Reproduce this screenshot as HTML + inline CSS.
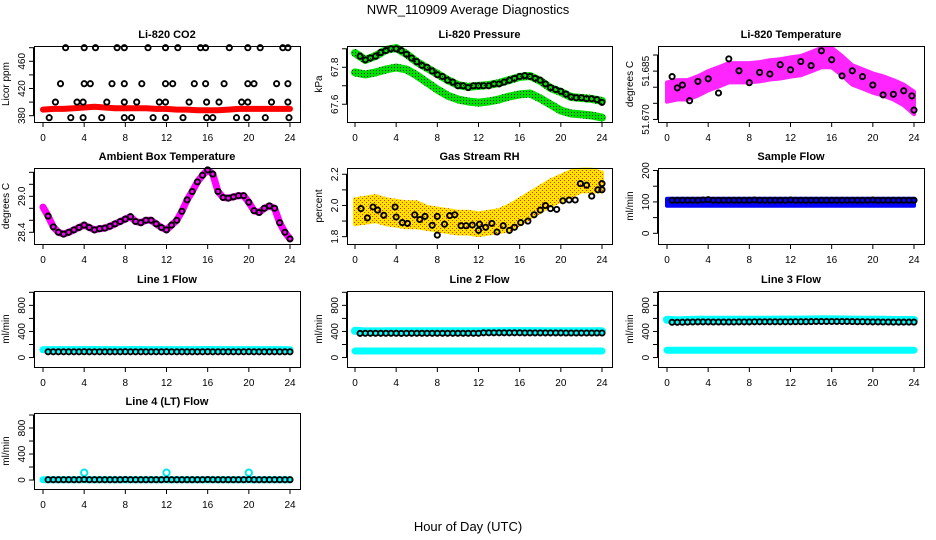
<!DOCTYPE html>
<html><head><meta charset="utf-8">
<style>
html,body{margin:0;padding:0;background:#fff;}
svg{display:block;font-family:"Liberation Sans",sans-serif;}
</style></head>
<body>
<svg id="chart" width="936" height="540" viewBox="0 0 936 540" xmlns="http://www.w3.org/2000/svg">
<defs>
<pattern id="greenDots" width="3" height="3" patternUnits="userSpaceOnUse"><rect width="3" height="3" fill="#00e000"/><rect x="1" y="1" width="1" height="1" fill="#003300"/></pattern>
<pattern id="rhDots" width="4" height="4" patternUnits="userSpaceOnUse"><rect width="4" height="4" fill="#ffe400"/><rect x="0" y="0" width="1" height="1" fill="#ff2000"/><rect x="2" y="2" width="1" height="1" fill="#ff2000"/></pattern>
</defs>
<text x="468" y="14" font-size="13" text-anchor="middle">NWR_110909  Average Diagnostics</text>
<text x="468" y="531" font-size="13" text-anchor="middle">Hour of Day (UTC)</text>
</svg>
<script>
// ---------- data ----------
const xTicks = [0,4,8,12,16,20,24];
const hourly = [0,1,2,3,4,5,6,7,8,9,10,11,12,13,14,15,16,17,18,19,20,21,22,23,24];
const halfHours = [0.5,1,1.5,2,2.5,3,3.5,4,4.5,5,5.5,6,6.5,7,7.5,8,8.5,9,9.5,10,10.5,11,11.5,12,12.5,13,13.5,14,14.5,15,15.5,16,16.5,17,17.5,18,18.5,19,19.5,20,20.5,21,21.5,22,22.5,23,23.5,24];

// CO2
const co2Red = [389,390,390,391,392,393,392,391,391,391,391,390,390,389,389,388,388,388,389,390,390,390,390,390,390];
const co2Hours = [2.2,4.0,5.1,7.2,7.9,10.2,11.9,13.1,15.3,15.8,18.1,19.9,21.1,23.3,23.8,
  1.7,4.0,4.6,6.7,7.9,9.6,11.9,12.6,14.7,15.8,17.6,19.9,20.5,22.7,23.8,
  1.2,3.3,3.9,6.2,7.9,9.1,11.3,11.9,14.2,15.9,17.1,19.3,19.9,22.2,23.8,
  0.6,2.7,3.9,5.7,7.9,8.6,10.7,11.9,13.6,15.9,16.5,18.8,19.8,21.6,23.9];
const co2Vals = [480,480,480,480,480,480,480,480,480,480,480,480,480,480,480,
  427,427,427,427,427,427,427,427,427,427,427,427,427,427,427,
  400,400,400,400,400,400,400,400,400,400,400,400,400,400,400,
  377,377,377,377,377,377,377,377,377,377,377,377,377,377,377];

// Pressure
const pressUpper = [67.877,67.840,67.861,67.894,67.904,67.872,67.829,67.796,67.764,67.731,67.704,67.694,67.699,67.704,67.715,67.731,67.748,67.753,67.726,67.688,67.666,67.639,67.634,67.629,67.618];
const pressLower = [67.772,67.761,67.772,67.788,67.799,67.788,67.756,67.718,67.680,67.647,67.626,67.615,67.609,67.615,67.626,67.642,67.653,67.658,67.631,67.599,67.566,67.550,67.545,67.539,67.528];
const pressBlack = [67.86,67.84,67.85,67.86,67.88,67.89,67.90,67.90,67.89,67.87,67.85,67.83,67.81,67.80,67.78,67.76,67.75,67.73,67.72,67.70,67.70,67.69,67.70,67.70,67.70,67.70,67.71,67.71,67.72,67.73,67.74,67.75,67.755,67.75,67.74,67.73,67.71,67.69,67.68,67.67,67.655,67.64,67.635,67.635,67.63,67.63,67.625,67.61];

// Li-820 temperature
const tempCenter = [51.6785,51.6792,51.6792,51.6804,51.6820,51.6832,51.6845,51.6845,51.6845,51.6848,51.6854,51.6857,51.6863,51.6867,51.6879,51.6892,51.6892,51.6867,51.6838,51.6826,51.6813,51.6804,51.6792,51.6776,51.6751];
const tempSpread = [0.0030,0.0030,0.0030,0.0030,0.0030,0.0030,0.0030,0.0030,0.0030,0.0030,0.0030,0.0030,0.0030,0.0030,0.0030,0.0030,0.0030,0.0030,0.0030,0.0030,0.0030,0.0030,0.0030,0.0032,0.0035];
const tempBlackHours = [0.5,1,1.5,2.2,3,4,5,6,7,8,9,10,11,12,13,14,15,16,17,18,19,20,21,22,23,23.8,24];
const tempBlack = [51.6833,51.6798,51.6807,51.6758,51.6818,51.6826,51.6782,51.6888,51.6851,51.6814,51.6846,51.6841,51.6870,51.6854,51.6880,51.6867,51.6913,51.6885,51.6835,51.6851,51.6833,51.6807,51.6776,51.6778,51.6789,51.6773,51.6729];

// Ambient box temperature
const ambHours = [0,0.5,1,1.5,2,2.5,3,3.5,4,4.5,5,5.5,6,6.5,7,7.5,8,8.5,9,9.5,10,10.5,11,11.5,12,12.5,13,13.5,14,14.5,15,15.5,16,16.5,17,17.5,18,18.5,19,19.5,20,20.5,21,21.5,22,22.5,23,23.5,24];
const ambVals = [28.82,28.67,28.49,28.40,28.37,28.40,28.44,28.48,28.52,28.48,28.44,28.46,28.47,28.50,28.54,28.58,28.62,28.66,28.58,28.56,28.60,28.60,28.54,28.48,28.44,28.52,28.60,28.75,28.94,29.08,29.24,29.35,29.44,29.37,29.08,28.98,28.97,28.99,29.01,29.01,28.90,28.76,28.73,28.80,28.84,28.80,28.56,28.40,28.29];

// Gas stream RH
const rhCenter = [1.96,1.97,1.98,1.96,1.95,1.94,1.94,1.92,1.91,1.90,1.89,1.89,1.88,1.89,1.90,1.92,1.96,2.00,2.04,2.08,2.11,2.14,2.16,2.16,2.15];
const rhSpread = [0.08,0.08,0.08,0.08,0.08,0.08,0.08,0.07,0.07,0.07,0.07,0.07,0.07,0.07,0.07,0.08,0.08,0.08,0.08,0.08,0.08,0.08,0.07,0.07,0.06];
const rhHours = [0.58,1.2,1.75,2.2,2.8,3.9,4.0,4.6,5.1,5.8,6.3,6.8,7.5,8.0,8.0,8.7,9.2,9.7,10.3,10.8,11.4,12,12.1,12.7,13.3,13.8,14.4,15,15.5,16.1,16.8,17.4,18,18.5,19,19.6,20.2,20.8,21.4,21.9,22.5,23,23.6,24,24];
const rhVals = [1.98,1.92,1.99,1.97,1.937,1.99,1.926,1.89,1.885,1.94,1.91,1.93,1.873,1.93,1.81,1.88,1.935,1.94,1.87,1.87,1.875,1.84,1.88,1.86,1.885,1.83,1.87,1.84,1.86,1.89,1.90,1.94,1.97,2.00,1.98,1.975,2.03,2.035,2.035,2.14,2.13,2.06,2.10,2.14,2.10];

// Flows
const sampleBandLow = 88, sampleBandHigh = 110;
const sampleBlack = [105,105,105,105,105,105,106,107,105,105,105,105,105,105,105,105,106,105,105,105,105,105,105,106,105,105,105,105,105,105,105,105,105,105,105,105,105,105,105,106,105,105,105,105,105,105,105,105];
const line1Cyan = [120,121,122,121,122,123,122,121,122,123,122,121,122,122,121,122,123,122,121,122,122,121,122,121,120];
const line1Black = [88,88,88,88,88,88,88,90,88,88,88,88,88,88,88,90,88,88,88,88,88,88,88,90,88,88,88,88,88,88,88,90,88,88,88,88,88,88,88,90,88,88,88,88,88,88,88,88];
const line2CyanHigh = [410,400,400,402,402,403,402,402,402,404,402,402,403,404,404,405,406,405,404,404,404,403,402,402,402];
const line2CyanLow = [100,100,100,100,100,100,100,100,100,100,100,100,100,100,100,100,100,100,100,100,100,100,100,100,100];
const line2Black = [370,372,372,372,372,372,372,372,370,372,372,372,372,372,372,372,372,372,372,372,372,372,372,372,380,380,380,380,380,380,380,380,378,378,378,378,378,378,378,378,376,376,376,376,376,376,376,376];
const line3CyanHigh = [580,570,575,578,578,580,580,580,580,580,580,582,582,582,583,584,584,583,582,580,580,578,576,575,575];
const line3CyanLow = [112,112,112,112,112,112,112,112,112,112,112,112,112,112,112,112,112,112,112,112,112,112,112,112,112];
const line3Black = [540,540,542,544,545,546,546,547,545,545,545,545,545,546,546,547,548,548,548,548,548,548,548,548,550,550,550,551,552,552,552,553,552,552,552,551,550,550,548,547,546,545,545,544,543,543,543,543];
const line4Cyan = [5,5,5,5,5,5,5,5,5,5,5,5,5,5,5,5,5,5,5,5,5,5,5,5,5];
const line4OutHours = [4,12,20];
const line4Out = [112,112,112];
const line4Black = [5,5,5,5,5,5,5,8,5,5,5,5,5,5,5,8,5,5,5,5,5,5,5,8,5,5,5,5,5,5,5,8,5,5,5,5,5,5,5,8,5,5,5,5,5,5,5,5];

// ---------- drawing ----------
const NS = "http://www.w3.org/2000/svg";
const svg = document.getElementById('chart');
const COLS = [{bx:34,bw:266,x0:43,x1:290},{bx:347,bw:265,x0:355,x1:602},{bx:658,bw:266,x0:667,x1:914}];
const ROWS = [46,168,291,413];
const BH = 76;

function mk(tag, attrs, parent){
  const e = document.createElementNS(NS, tag);
  for (const k in attrs) e.setAttribute(k, attrs[k]);
  (parent||svg).appendChild(e);
  return e;
}

function panel(name, col, row, title, ylab, ymin, ymax, ticks, labels){
  const c = COLS[col], top = ROWS[row], bot = top + BH;
  const g = mk('g', {});
  
  
  const sx = h => c.x0 + (h/24)*(c.x1 - c.x0);
  const sy = v => bot - (v - ymin)/(ymax - ymin)*BH;
  const plot = mk('g', {}, g);
  
  
  const t = mk('text', {x: c.bx + c.bw/2, y: top - 8, 'font-size': 11, 'font-weight': 'bold', 'text-anchor': 'middle'}, g);
  t.textContent = title;
  
  
  const yl = mk('text', {x: 0, y: 0, 'font-size': 10, 'text-anchor': 'middle', transform: `translate(${c.bx-25},${top+BH/2}) rotate(-90)`}, g);
  yl.textContent = ylab;
  
  
  const ya = mk('g', {stroke:'#000','stroke-width':1}, g);
  
  
  mk('line', {x1:c.bx-0.5, x2:c.bx-0.5, y1:sy(ticks[0]), y2:sy(ticks[ticks.length-1])}, ya);
  ticks.forEach(v => {
    mk('line', {x1:c.bx-5, x2:c.bx, y1:sy(v), y2:sy(v)}, ya);
  });
  labels.forEach(v => {
    const lt = mk('text', {x:0, y:0, 'font-size':10, 'text-anchor':'middle', stroke:'none', transform:`translate(${c.bx-9},${sy(v)}) rotate(-90)`}, ya);
    lt.textContent = String(v);
    
    
  });
  const xa = mk('g', {stroke:'#000','stroke-width':1}, g);
  
  
  mk('line', {x1:sx(0), x2:sx(24), y1:bot+0.5, y2:bot+0.5}, xa);
  xTicks.forEach(h => {
    mk('line', {x1:sx(h), x2:sx(h), y1:bot, y2:bot+5}, xa);
    const lt = mk('text', {x:sx(h), y:bot+19, 'font-size':10, 'text-anchor':'middle', stroke:'none'}, xa);
    lt.textContent = String(h);
    
    
  });
  const frame = () => {
    const r = mk('rect', {x:c.bx+0.5, y:top+0.5, width:c.bw, height:BH, fill:'none', stroke:'#000', 'stroke-width':1}, g);
    
    
  };
  return {g: plot, sx, sy, frame};
}

function polyline(p, xs, ys, color, w, name){
  const pts = xs.map((h,i) => `${p.sx(h).toFixed(1)},${p.sy(ys[i]).toFixed(1)}`).join(' ');
  const e = mk('polyline', {points:pts, fill:'none', stroke:color, 'stroke-width':w, 'stroke-linejoin':'round', 'stroke-linecap':'round'}, p.g);
  
  
  return e;
}
function band(p, xs, lo, hi, fill, name, op){
  const a = xs.map((h,i)=>`${p.sx(h).toFixed(1)},${p.sy(hi[i]).toFixed(1)}`);
  const b = xs.map((h,i)=>`${p.sx(h).toFixed(1)},${p.sy(lo[i]).toFixed(1)}`).reverse();
  const e = mk('polygon', {points:a.concat(b).join(' '), fill:fill, stroke:fill, 'stroke-width':4, 'stroke-linejoin':'round', opacity: op||1}, p.g);
  
  
  return e;
}
function circles(p, xs, ys, color, name, r){
  const gg = mk('g', {}, p.g);
  
  
  xs.forEach((h,i) => {
    const c = mk('circle', {cx:p.sx(h).toFixed(1), cy:p.sy(ys[i]).toFixed(1), r:r||2.6, fill:'none', stroke:color, 'stroke-width':1.9}, gg);
    
    
  });
}

let p = panel('co2', 0, 0, 'Li-820 CO2', 'Licor ppm', 370.7, 482.5, [380,400,420,440,460,480], [380,420,460]);
polyline(p, hourly, co2Red, '#ff0000', 6, 'co2-red-series');
circles(p, co2Hours, co2Vals, '#000', 'co2-black-series');
p.frame();

p = panel('pressure', 1, 0, 'Li-820 Pressure', 'kPa', 67.504, 67.915, [67.6,67.7,67.8,67.9], [67.6,67.8]);
polyline(p, hourly, pressLower, 'url(#greenDots)', 8, 'pressure-lower-series');
polyline(p, hourly, pressUpper, 'url(#greenDots)', 8, 'pressure-upper-series');
circles(p, halfHours, pressBlack, '#000', 'pressure-black-series');
p.frame();

p = panel('li820-temp', 2, 0, 'Li-820 Temperature', 'degrees C', 51.6692, 51.6928, [51.670,51.675,51.680,51.685,51.690], ['51.670','51.685']);
band(p, hourly, tempCenter.map((v,i)=>v-tempSpread[i]), tempCenter.map((v,i)=>v+tempSpread[i]), '#ff00ff', 'li820-temp-magenta-cloud', 0.85);
circles(p, tempBlackHours, tempBlack, '#000', 'li820-temp-black-series');
p.frame();

p = panel('ambient', 0, 1, 'Ambient Box Temperature', 'degrees C', 28.205, 29.472, [28.4,28.6,28.8,29.0,29.2,29.4], ['28.4','29.0']);
polyline(p, ambHours, ambVals, '#ff00ff', 7, 'ambient-magenta-series');
circles(p, ambHours.slice(1), ambVals.slice(1), '#000', 'ambient-black-series');
p.frame();

p = panel('rh', 1, 1, 'Gas Stream RH', 'percent', 1.753, 2.240, [1.8,1.9,2.0,2.1,2.2], ['1.8','2.0','2.2']);
band(p, hourly, rhCenter.map((v,i)=>v-rhSpread[i]), rhCenter.map((v,i)=>v+rhSpread[i]), 'url(#rhDots)', 'rh-orange-cloud');
circles(p, rhHours, rhVals, '#000', 'rh-black-series');
p.frame();

p = panel('sample-flow', 2, 1, 'Sample Flow', 'ml/min', -34, 208, [0,50,100,150,200], [0,100,200]);
band(p, hourly, hourly.map(()=>sampleBandLow), hourly.map(()=>sampleBandHigh), '#0000ff', 'sample-flow-blue-band');
circles(p, halfHours, sampleBlack, '#000', 'sample-flow-black-series');
p.frame();

p = panel('line1', 0, 2, 'Line 1 Flow', 'ml/min', -145, 1020, [0,200,400,600,800,1000], [0,400,800]);
polyline(p, hourly, line1Cyan, '#00ffff', 7, 'line1-cyan-series');
circles(p, halfHours, line1Black, '#000', 'line1-black-series');
p.frame();

p = panel('line2', 1, 2, 'Line 2 Flow', 'ml/min', -145, 1020, [0,200,400,600,800,1000], [0,400,800]);
polyline(p, hourly, line2CyanLow, '#00ffff', 7, 'line2-cyan-low-series');
polyline(p, hourly, line2CyanHigh, '#00ffff', 8, 'line2-cyan-high-series');
circles(p, halfHours, line2Black, '#000', 'line2-black-series');
p.frame();

p = panel('line3', 2, 2, 'Line 3 Flow', 'ml/min', -145, 1020, [0,200,400,600,800,1000], [0,400,800]);
polyline(p, hourly, line3CyanLow, '#00ffff', 7, 'line3-cyan-low-series');
polyline(p, hourly, line3CyanHigh, '#00ffff', 8, 'line3-cyan-high-series');
circles(p, halfHours, line3Black, '#000', 'line3-black-series');
p.frame();

p = panel('line4', 0, 3, 'Line 4 (LT) Flow', 'ml/min', -138, 1031, [0,200,400,600,800,1000], [0,400,800]);
polyline(p, hourly, line4Cyan, '#00ffff', 7, 'line4-cyan-series');
circles(p, line4OutHours, line4Out, '#00e8e8', 'line4-cyan-outliers', 3.2);
circles(p, halfHours, line4Black, '#000', 'line4-black-series');
p.frame();
</script>
</body></html>
